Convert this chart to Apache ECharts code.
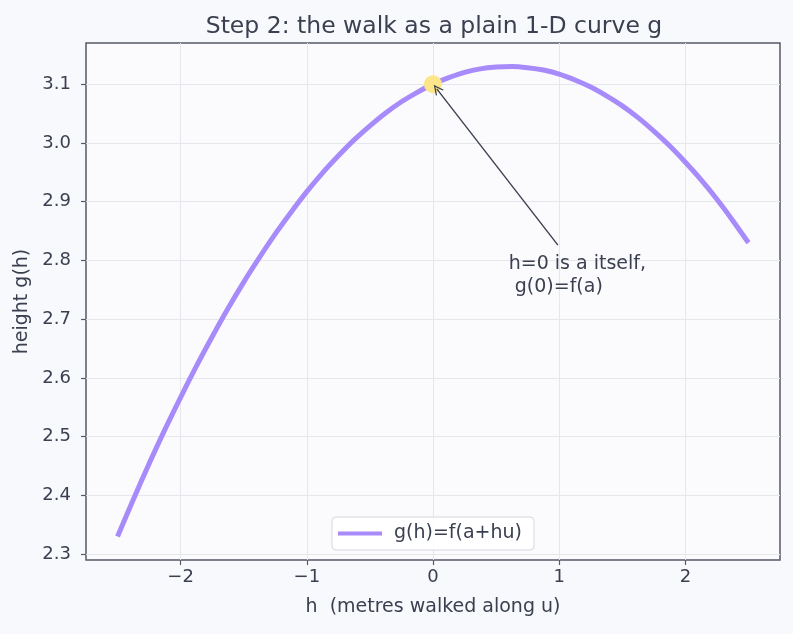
<!DOCTYPE html>
<html>
<head>
<meta charset="utf-8">
<script src="https://cdn.jsdelivr.net/npm/echarts@6/dist/echarts.min.js"></script>
<style>
  html, body { margin: 0; padding: 0; background: #f8f9fc; }
  #chart { width: 793px; height: 634px; }
</style>
</head>
<body>
<div id="chart"></div>
<script>
// h values (metres walked along u) and heights
var hs = [-2.5, -2.375, -2.25, -2.125, -2, -1.875, -1.75, -1.625, -1.5, -1.375, -1.25,
          -1.125, -1, -0.875, -0.75, -0.625, -0.5, -0.375, -0.25, -0.125, 0,
          0.125, 0.25, 0.375, 0.5, 0.625, 0.75, 0.875, 1, 1.125, 1.25,
          1.375, 1.5, 1.625, 1.75, 1.875, 2, 2.125, 2.25, 2.375, 2.5];
var gs = [2.330, 2.393, 2.454, 2.512, 2.567, 2.620, 2.670, 2.718, 2.763, 2.805, 2.845,
          2.882, 2.917, 2.949, 2.978, 3.005, 3.029, 3.051, 3.070, 3.086, 3.100,
          3.111, 3.120, 3.126, 3.129, 3.130, 3.128, 3.124, 3.117, 3.107, 3.095,
          3.080, 3.063, 3.043, 3.020, 2.995, 2.967, 2.937, 2.904, 2.868, 2.830];
var startPoint = [0, 3.1];
var xTicks = [-2, -1, 0, 1, 2];
var yTicks = [2.3, 2.4, 2.5, 2.6, 2.7, 2.8, 2.9, 3.0, 3.1];
var noteFrom = [0.99, 2.826];
var noteTo = [0.03, 3.092];
var noteAt = [0.6, 2.826];
var noteText = 'h=0 is a itself,\n g(0)=f(a)';

var ink = '#3b4050';
var font = 'DejaVu Sans';

var lineData = hs.map(function (h, i) { return [h, gs[i]]; });

var chart = echarts.init(document.getElementById('chart'));
chart.setOption({
  backgroundColor: '#f8f9fc',
  animation: false,
  textStyle: { fontFamily: font, color: ink },
  title: {
    text: 'Step 2: the walk as a plain 1-D curve g',
    left: 429, top: 10, textAlign: 'center',
    textStyle: { fontFamily: font, fontSize: 23.5, fontWeight: 'normal', color: ink }
  },
  grid: { left: 86, right: 13, top: 43, bottom: 74, show: true,
          borderColor: '#555a66', borderWidth: 1.5, backgroundColor: '#fbfbfe' },
  legend: {
    left: 332, top: 517,
    data: ['g(h)=f(a+hu)'],
    itemWidth: 44, itemHeight: 4,
    padding: [7, 12, 7, 6],
    backgroundColor: 'rgba(255,255,255,0.85)',
    borderColor: '#d6d7dc', borderWidth: 1, borderRadius: 4,
    textStyle: { fontFamily: font, fontSize: 19, color: ink, padding: [0, 0, 0, 7] },
    icon: 'rect'
  },
  xAxis: {
    type: 'value', min: -2.75, max: 2.75,
    name: 'h  (metres walked along u)', nameLocation: 'middle', nameGap: 38,
    nameTextStyle: { fontFamily: font, fontSize: 19, color: ink },
    axisLine: { show: false, onZero: false },
    axisTick: { show: true, length: 5, customValues: xTicks, lineStyle: { color: '#555a66', width: 1.2 } },
    axisLabel: { customValues: xTicks, margin: 8, fontSize: 18, color: ink, fontFamily: font,
                 formatter: function (v) { return String(v).replace('-', '\u2212'); } },
    splitLine: { show: true, lineStyle: { color: '#e6e7ec', width: 1 } }
  },
  yAxis: {
    type: 'value', min: 2.29, max: 3.17,
    name: 'height g(h)', nameLocation: 'middle', nameGap: 54,
    nameTextStyle: { fontFamily: font, fontSize: 19, color: ink },
    axisLine: { show: false, onZero: false },
    axisTick: { show: true, length: 5, customValues: yTicks, lineStyle: { color: '#555a66', width: 1.2 } },
    axisLabel: { customValues: yTicks, margin: 15, fontSize: 18, color: ink, fontFamily: font,
                 formatter: function (v) { return v.toFixed(1); } },
    splitLine: { show: true, lineStyle: { color: '#e6e7ec', width: 1 } }
  },
  series: [
    {
      name: 'g(h)=f(a+hu)', type: 'line', data: lineData,
      smooth: 0.3, smoothConstraint: false,
      showSymbol: false, lineStyle: { color: '#a78bfa', width: 5 },
      itemStyle: { color: '#a78bfa' }, z: 2
    },
    {
      name: 'start', type: 'scatter', data: [startPoint], symbolSize: 18,
      itemStyle: { color: '#fde68a', opacity: 1 }, z: 3,
      markLine: {
        silent: true,
        symbol: ['none', 'path://M0,10 L5,0 L10,10 L8.6,10 L5,2.8 L1.4,10 Z'],
        symbolSize: [10, 10],
        lineStyle: { color: '#3b4050', width: 1.4, type: 'solid' },
        label: { show: false },
        data: [[{ coord: noteFrom }, { coord: noteTo }]]
      }
    }
  ]
});

// annotation text placed in data space
var p = chart.convertToPixel({ gridIndex: 0 }, noteAt);
chart.setOption({
  graphic: [{
    type: 'text', x: p[0], y: p[1] + 7,
    style: { text: noteText, font: '19px "DejaVu Sans"', fill: ink, lineHeight: 23 }
  }]
});
</script>
</body>
</html>
